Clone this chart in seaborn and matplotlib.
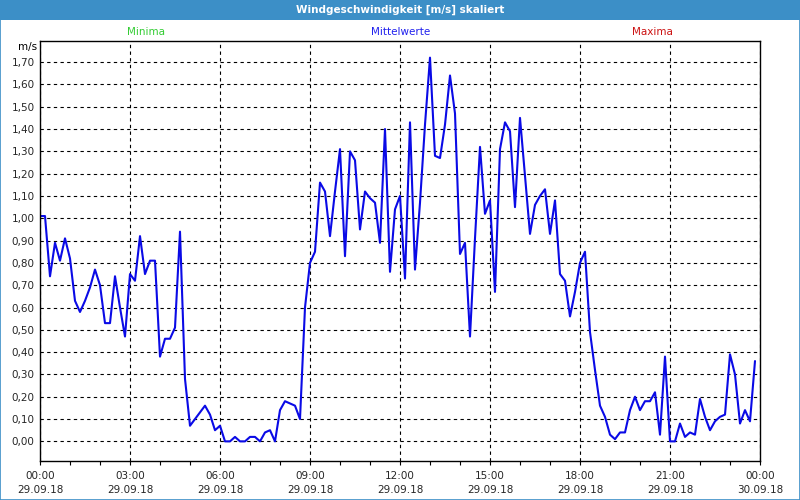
import numpy as np
import pandas as pd
import matplotlib
matplotlib.use("Agg")
import matplotlib.pyplot as plt
import seaborn as sns
from matplotlib.patches import Rectangle
from matplotlib.ticker import MultipleLocator, FixedLocator

# 10-minute mean wind speed [m/s], 29.09.18 00:00 .. 23:50
wind = [
    1.01, 1.01, 0.74, 0.89, 0.81, 0.91, 0.82, 0.63, 0.58, 0.63, 0.69, 0.77,
    0.70, 0.53, 0.53, 0.74, 0.60, 0.47, 0.75, 0.72, 0.92, 0.75, 0.81, 0.81,
    0.38, 0.46, 0.46, 0.51, 0.94, 0.28, 0.07, 0.10, 0.13, 0.16, 0.12, 0.05,
    0.07, 0.00, 0.00, 0.02, 0.00, 0.00, 0.02, 0.02, 0.00, 0.04, 0.05, 0.00,
    0.14, 0.18, 0.17, 0.16, 0.10, 0.60, 0.80, 0.85, 1.16, 1.12, 0.92, 1.12,
    1.31, 0.83, 1.30, 1.26, 0.95, 1.12, 1.09, 1.07, 0.89, 1.40, 0.76, 1.04,
    1.10, 0.73, 1.43, 0.77, 1.07, 1.42, 1.72, 1.28, 1.27, 1.42, 1.64, 1.47,
    0.84, 0.89, 0.47, 0.91, 1.32, 1.02, 1.08, 0.67, 1.31, 1.43, 1.39, 1.05,
    1.45, 1.19, 0.93, 1.06, 1.10, 1.13, 0.93, 1.08, 0.75, 0.72, 0.56, 0.67,
    0.80, 0.85, 0.49, 0.32, 0.16, 0.11, 0.03, 0.01, 0.04, 0.04, 0.14, 0.20,
    0.14, 0.18, 0.18, 0.22, 0.03, 0.38, 0.00, 0.00, 0.08, 0.02, 0.04, 0.03,
    0.19, 0.11, 0.05, 0.09, 0.11, 0.12, 0.39, 0.30, 0.08, 0.14, 0.09, 0.36,
]
hours = np.arange(len(wind)) / 6.0

tick_hours = [0, 3, 6, 9, 12, 15, 18, 21, 24]
tick_labels = ["00:00\n29.09.18", "03:00\n29.09.18", "06:00\n29.09.18",
               "09:00\n29.09.18", "12:00\n29.09.18", "15:00\n29.09.18",
               "18:00\n29.09.18", "21:00\n29.09.18", "00:00\n30.09.18"]
y_ticks = np.round(np.arange(0, 1.71, 0.1), 2)

df = pd.DataFrame({"Stunde": hours, "Wind": wind})

sns.set_style("white")
plt.rcParams["font.family"] = ["DejaVu Sans"]
plt.rcParams["font.size"] = 7.5

frame_blue = "#3c8fc7"
fig = plt.figure(figsize=(8, 5), dpi=100)
ax = fig.add_axes([0.05, 0.078, 0.90, 0.8406])

sns.lineplot(data=df, x="Stunde", y="Wind", color="#0a0ae6", linewidth=1.5, ax=ax)

ax.set_xlim(0, 24)
ax.set_ylim(-0.088, 1.796)
ax.xaxis.set_major_locator(FixedLocator(tick_hours))
ax.set_xticklabels(tick_labels)
ax.xaxis.set_minor_locator(MultipleLocator(1))
ax.set_yticks(y_ticks)
ax.set_yticklabels([f"{v:.2f}".replace(".", ",") for v in y_ticks])
for lbl in ax.get_xticklabels():
    lbl.set_linespacing(1.55)

ax.tick_params(axis="x", which="both", direction="out", length=3, width=0.8,
               color="black", pad=4, labelsize=7.5, bottom=True)
ax.tick_params(axis="y", length=0, pad=4, labelsize=7.5)
ax.grid(True, color="black", linestyle=(0, (3, 3)), linewidth=0.8)
ax.set_xlabel("")
ax.set_ylabel("")
for sp in ax.spines.values():
    sp.set_visible(True)
    sp.set_color("black")
    sp.set_linewidth(1.0)

# title bar and frame
fig.patches.append(Rectangle((0, 1 - 20 / 500), 1, 20 / 500, transform=fig.transFigure,
                             facecolor=frame_blue, edgecolor="none", zorder=0))
fig.patches.append(Rectangle((0.0006, 0.001), 0.9988, 0.998, transform=fig.transFigure,
                             fill=False, edgecolor=frame_blue, linewidth=1.2, zorder=5))
fig.text(0.5, 1 - 10 / 500, "Windgeschwindigkeit [m/s] skaliert", color="white",
         fontsize=7.5, fontweight="bold", ha="center", va="center")

# legend-like labels
fig.text(146 / 800, 1 - 32 / 500, "Minima", color="#33cc33", fontsize=7.5, ha="center", va="center")
fig.text(401 / 800, 1 - 32 / 500, "Mittelwerte", color="#2020ee", fontsize=7.5, ha="center", va="center")
fig.text(652 / 800, 1 - 32 / 500, "Maxima", color="#cc1111", fontsize=7.5, ha="center", va="center")
fig.text(37 / 800, 1 - 47 / 500, "m/s", color="black", fontsize=7.5, ha="right", va="center")

fig.savefig("out.png", dpi=100)
